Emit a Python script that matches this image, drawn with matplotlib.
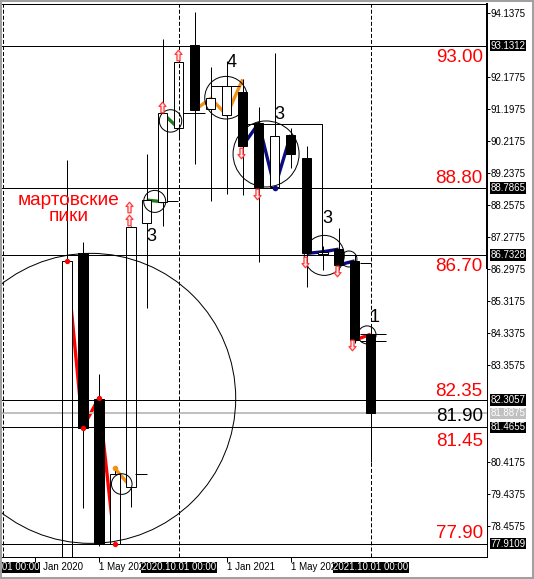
import numpy as np
import matplotlib
matplotlib.use('Agg')
import matplotlib.pyplot as plt
from matplotlib.patches import Ellipse, Rectangle
from matplotlib.path import Path
from matplotlib.transforms import blended_transform_factory

# ---------------- data (monthly candles) ----------------
months = ['2020-03', '2020-04', '2020-05', '2020-06', '2020-07', '2020-08', '2020-09',
          '2020-10', '2020-11', '2020-12', '2021-01', '2021-02', '2021-03', '2021-04',
          '2021-05', '2021-06', '2021-07', '2021-08', '2021-09', '2021-10']
opens = [73.90, 86.78, 82.32, 77.91, 79.65, 87.70, 88.36, 90.60, 93.15, 91.19,
         91.01, 91.70, 90.76, 88.82, 90.40, 89.69, 86.76, 86.91, 86.55, 84.31]
highs = [89.63, 87.12, 83.09, 80.21, 87.62, 89.82, 93.33, 92.70, 94.15, 92.49,
         92.67, 92.10, 91.25, 92.90, 90.61, 90.06, 87.00, 87.55, 86.77, 84.60]
lows = [72.80, 79.01, 77.85, 77.85, 79.04, 85.12, 87.63, 90.30, 89.51, 88.38,
        88.60, 88.56, 86.53, 88.78, 89.40, 85.75, 86.27, 86.27, 84.05, 80.40]
closes = [86.55, 81.45, 77.90, 80.03, 87.60, 88.41, 91.06, 92.62, 91.16, 91.52,
          91.91, 90.07, 88.82, 90.38, 89.81, 86.78, 86.83, 86.43, 84.13, 81.89]

y_ticks = [94.1375, 92.1775, 91.1975, 90.2175, 89.2375, 88.2575, 87.2775, 86.2975,
           85.3175, 84.3375, 83.3575, 80.4175, 79.4375, 78.4575]
x_tick_pos = [-2, 2, 10, 14]
x_tick_labels = ['1 Jan 2020', '1 May 2020', '1 Jan 2021', '1 May 2021']
separators = [-4, 7, 19]
separator_labels = ['2019.11.01 00:00', '2020.10.01 00:00', '2021.10.01 00:00']

level_lines = [93.1312, 88.7865, 86.7328, 82.3057, 81.4655, 77.9109]
bid_price = 81.8875
target_texts = ['93.00', '88.80', '86.70', '82.35', '81.90', '81.45', '77.90']
target_base = [92.64, 88.94, 86.25, 82.42, 81.67, 80.89, 78.07]
target_colors = ['red', 'red', 'red', 'red', 'black', 'red', 'red']

# zigzag annotations: (color, month indices, values, dots)
zigzags = [
    ('#ff0000', [0, 1, 2, 3], [86.55, 81.45, 82.35, 77.90], True),
    ('#f39016', [3, 4], [80.21, 79.65], False),
    ('#1f7a1f', [5, 6], [88.41, 88.36], False),
    ('#1f7a1f', [6, 7], [91.06, 90.60], False),
    ('#f39016', [8, 9, 10, 11], [91.16, 91.52, 91.01, 92.10], False),
    ('#0b0b80', [11, 12, 13, 14], [90.07, 90.76, 88.78, 90.40], False),
    ('#0b0b80', [15, 16, 17], [86.78, 86.83, 86.91], False),
    ('#0b0b80', [17, 18], [86.43, 86.55], False),
    ('#ff0000', [18, 19], [84.13, 84.31], False),
]
dot_points = [('#f39016', 3, 80.21), ('#0b0b80', 13, 88.78)]

# circles: (month, price, radius in px)
circles = [(1.5, 82.35, 145), (3.44, 79.73, 10.3), (5.5, 88.37, 11), (6.49, 90.83, 11.2),
           (9.96, 91.54, 21.3), (12.46, 89.82, 33), (16.1, 86.72, 20), (17.64, 86.61, 8),
           (18.77, 84.29, 9)]

# short level segments: (price, x_from, x_to)
segments = [(80.03, 4.27, 4.99), (88.38, 6.28, 6.94), (91.06, 7.29, 8.64), (91.91, 9.0, 10.83),
            (86.48, 18.33, 19.0), (84.31, 18.33, 19.96), (84.11, 18.33, 19.96)]
box_top, box_x0, box_x1, box_bottom = 90.73, 11.25, 15.98, 86.73

up_arrows = [(3.9, 88.21), (3.9, 87.80), (5.97, 91.26), (6.97, 92.84)]
down_arrows = [(10.88, 89.86), (11.88, 88.60), (14.9, 86.53), (16.88, 86.24), (17.85, 83.98)]

count_labels = [('3', 5.29, 87.17), ('4', 10.31, 92.49), ('3', 13.3, 90.88),
                ('3', 16.3, 87.72), ('1', 19.24, 84.69)]

# ---------------- figure ----------------
plt.rcParams['font.family'] = ['Liberation Sans', 'DejaVu Sans']
plt.rcParams['lines.scale_dashes'] = False
W, H = 534, 579
L, R, T, B = 2.3, 486.7, 3.5, 556.7
fig = plt.figure(figsize=(W / 100, H / 100), dpi=100)
fig.patch.set_facecolor('white')
ax = fig.add_axes([L / W, 1 - B / H, (R - L) / W, (B - T) / H])
ax.set_xlim(-4.025, 26.25)
ax.set_ylim(77.51, 94.419)
PX = 0.72  # one pixel in points

# zigzags (background)
for col, xs, vs, dots in zigzags:
    ax.plot(xs, vs, color=col, lw=2.4, solid_capstyle='butt', zorder=2)

# candles: white bodies are opaque white
x = np.arange(len(months))
o, h, l, c = map(np.array, (opens, highs, lows, closes))
up = c >= o
blo, bhi = np.minimum(o, c), np.maximum(o, c)
ax.bar(x[up], (bhi - blo)[up], bottom=blo[up], width=0.6, facecolor='white',
       edgecolor='none', zorder=2.4)

# level lines and drawn objects
for lv in level_lines:
    ax.axhline(lv, color='black', lw=PX, zorder=2.7)
ax.axhline(bid_price, color='#c0c0c0', lw=2 * PX, zorder=2.6)
for sx in separators:
    ax.axvline(sx, color='black', lw=PX, ls=(0, (2.9, 1.45)), zorder=2.7)
for lv, x0, x1 in segments:
    ax.hlines(lv, x0, x1, color='black', lw=PX, zorder=2.7)
ax.plot([box_x0, box_x1, box_x1], [box_top, box_top, box_bottom], color='black', lw=PX, zorder=2.7)

fig.canvas.draw()
p0 = ax.transData.transform((0, 80))
p1 = ax.transData.transform((1, 81))
sxp, syp = p1[0] - p0[0], p1[1] - p0[1]
for cx, cy, r in circles:
    ax.add_patch(Ellipse((cx, cy), 2 * r / sxp, 2 * r / syp, fill=False,
                         ec='black', lw=PX, zorder=2.7))

ax.bar(x[~up], (bhi - blo)[~up], bottom=blo[~up], width=0.6, color='black',
       edgecolor='black', lw=PX, zorder=3)
ax.bar(x[up], (bhi - blo)[up], bottom=blo[up], width=0.6, facecolor='none',
       edgecolor='black', lw=PX, zorder=3)
ax.vlines(x, bhi, h, color='black', lw=PX, zorder=3)
ax.vlines(x, l, blo, color='black', lw=PX, zorder=3)

for col, xs, vs, dots in zigzags:
    if dots:
        ax.plot(xs, vs, 'o', color=col, ms=2.8, zorder=3.5)
for col, xx, vv in dot_points:
    ax.plot([xx], [vv], 'o', color=col, ms=3, zorder=3.5)

# arrows
up_path = Path([(0, 0.75), (-0.5, 0.15), (-0.22, 0.15), (-0.22, -0.75), (0.22, -0.75),
                (0.22, 0.15), (0.5, 0.15), (0, 0.75)], closed=True)
down_path = Path([(xx, -yy) for xx, yy in up_path.vertices], closed=True)
ax.plot([a[0] for a in up_arrows], [a[1] for a in up_arrows], ls='none', marker=up_path,
        ms=7.6, mfc='#ffe4e4', mec='#ff3b3b', mew=0.9, zorder=4)
ax.plot([a[0] for a in down_arrows], [a[1] for a in down_arrows], ls='none', marker=down_path,
        ms=7.6, mfc='#ffe4e4', mec='#ff3b3b', mew=0.9, zorder=4)

# text annotations
for s, xx, yy in count_labels:
    ax.text(xx, yy, s, ha='center', va='baseline', fontsize=13, color='black', zorder=5)
ax.text(0.11, 88.25, 'мартовские', ha='center', va='baseline', fontsize=13.7, color='red', zorder=5)
ax.text(0.12, 87.77, 'пики', ha='center', va='baseline', fontsize=13.7, color='red', zorder=5)
for s, yb, col in zip(target_texts, target_base, target_colors):
    ax.text(26.0, yb, s, ha='right', va='baseline', fontsize=13.5, color=col, zorder=5)

# axes styling
for side in ('top', 'right', 'bottom'):
    ax.spines[side].set_linewidth(PX)
    ax.spines[side].set_color('black')
ax.spines['left'].set_visible(False)
ax.yaxis.tick_right()
ax.set_yticks(y_ticks)
ax.set_yticklabels([f'{v:.4f}' for v in y_ticks])
ax.tick_params(axis='y', direction='out', length=1.8, width=PX, pad=0.8, labelsize=7)
ax.set_xticks(x_tick_pos)
ax.set_xticklabels(x_tick_labels, ha='left')
ax.tick_params(axis='x', direction='out', length=3.6, width=PX, pad=0.3, labelsize=7)

tr_right = blended_transform_factory(ax.transAxes, ax.transData)
ax.plot([1, 1], [86.33, 94.419], transform=tr_right, color='black', lw=2 * PX,
        clip_on=False, zorder=6)

# price boxes on the scale
for lv in level_lines:
    ax.annotate(f'{lv:.4f}', xy=(1, lv), xycoords=('axes fraction', 'data'),
                xytext=(2.6, 0), textcoords='offset points', ha='left', va='center',
                fontsize=7, color='white', annotation_clip=False, zorder=7,
                bbox=dict(boxstyle='square,pad=0.08', fc='black', ec='none'))
ax.annotate(f'{bid_price:.4f}', xy=(1, bid_price), xycoords=('axes fraction', 'data'),
            xytext=(2.6, 0), textcoords='offset points', ha='left', va='center',
            fontsize=7, color='white', annotation_clip=False, zorder=7,
            bbox=dict(boxstyle='square,pad=0.08', fc='#c0c0c0', ec='none'))

# separator date boxes on the time scale
tr_bottom = blended_transform_factory(ax.transData, ax.transAxes)
for sx, s in zip(separators, separator_labels):
    ax.text(sx, (B - 567.2) / (B - T), s, transform=tr_bottom, ha='center', va='center',
            fontsize=7, color='white', clip_on=False, zorder=7,
            bbox=dict(boxstyle='square,pad=0.05', fc='black', ec='none'))

# window frame
fig.add_artist(Rectangle((0, 0), 1, 1, transform=fig.transFigure, fill=False,
                         ec='#a0a0a0', lw=2.9, zorder=10))

fig.savefig('out.png', dpi=100, facecolor='white')
